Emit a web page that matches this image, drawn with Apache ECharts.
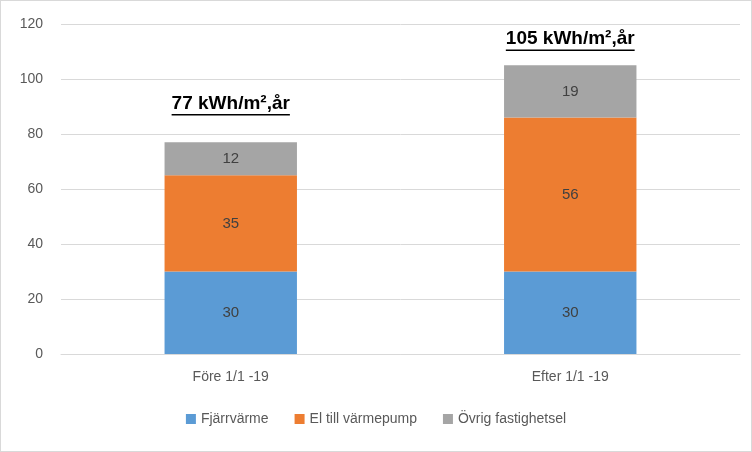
<!DOCTYPE html>
<html><head><meta charset="utf-8">
<script src="https://cdn.jsdelivr.net/npm/echarts@6/dist/echarts.min.js"></script>
<style>html,body{margin:0;padding:0;background:#fff}#c{width:750px;height:450px;border:1px solid #d9d9d9}</style>
</head><body><div id="c"></div>
<script>
const categories = ['Före 1/1 -19', 'Efter 1/1 -19'];
const fjarrvarme = [30, 30];
const elVarmepump = [35, 56];
const ovrig = [12, 19];
const totalLabels = ['77 kWh/m²,år', '105 kWh/m²,år'];
const labelValueY = [91, 114.5];
const yTicks = {min: 0, max: 120, interval: 20};

const chart = echarts.init(document.getElementById('c'));
const font = 'Liberation Sans, Arial, sans-serif';
const lab = {show: true, position: 'inside', color: '#404040', fontSize: 15, fontFamily: font};
function ser(name, data, color) {
  return {name, type: 'bar', stack: 't', data, barWidth: '39%', itemStyle: {color}, label: lab};
}
chart.setOption({
  animation: false,
  grid: {left: 60, right: 11, top: 23, bottom: 97},
  legend: {bottom: 20, itemWidth: 10, itemHeight: 10, itemGap: 26, icon: 'rect',
    textStyle: {color: '#595959', fontSize: 14, fontFamily: font}},
  xAxis: {type: 'category', data: categories,
    axisLine: {lineStyle: {color: '#d9d9d9'}}, axisTick: {show: false},
    axisLabel: {color: '#595959', fontSize: 14, fontFamily: font, margin: 16}},
  yAxis: {type: 'value', min: yTicks.min, max: yTicks.max, interval: yTicks.interval,
    axisLabel: {color: '#595959', fontSize: 14, fontFamily: font, margin: 18},
    splitLine: {lineStyle: {color: '#d9d9d9'}}},
  series: [
    ser('Fjärrvärme', fjarrvarme, '#5b9bd5'),
    ser('El till värmepump', elVarmepump, '#ed7d31'),
    ser('Övrig fastighetsel', ovrig, '#a5a5a5')
  ]
});
const ctx = document.createElement('canvas').getContext('2d');
ctx.font = 'bold 19px ' + font;
const g = [];
categories.forEach((c, i) => {
  const p = chart.convertToPixel({gridIndex: 0}, [c, labelValueY[i]]);
  const w = ctx.measureText(totalLabels[i]).width;
  g.push({type: 'text', x: p[0], y: p[1], style: {text: totalLabels[i], font: 'bold 19px ' + font,
    fill: '#000', align: 'center', verticalAlign: 'middle'}});
  g.push({type: 'line', shape: {x1: p[0] - w / 2, y1: p[1] + 11, x2: p[0] + w / 2, y2: p[1] + 11},
    style: {stroke: '#000', lineWidth: 1.5}});
});
chart.setOption({graphic: g});
</script></body></html>
